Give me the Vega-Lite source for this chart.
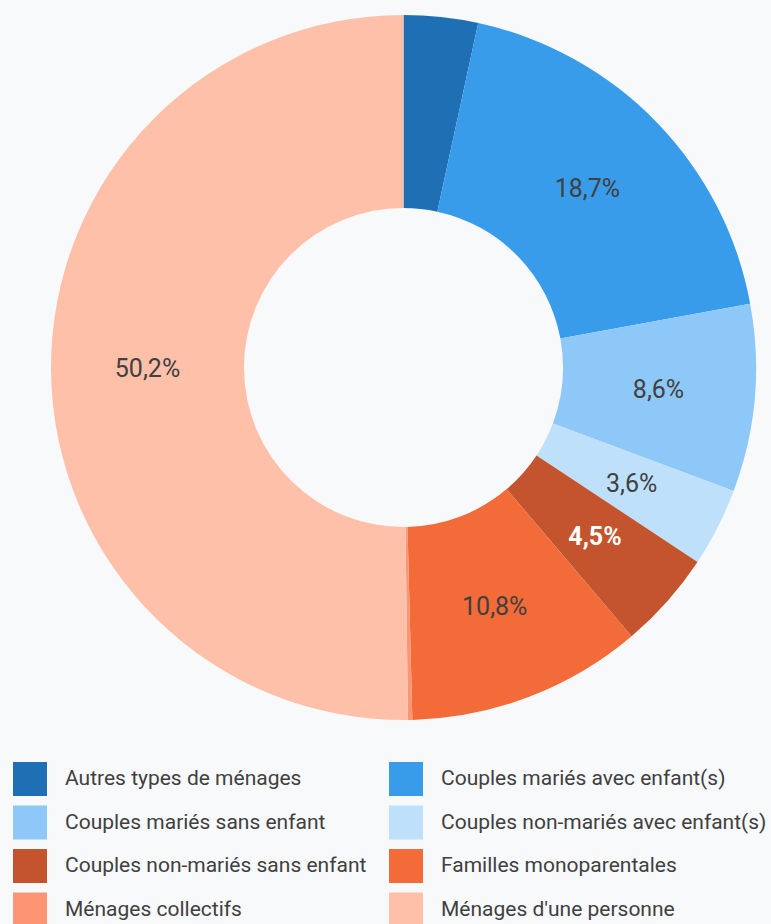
{
  "$schema": "https://vega.github.io/schema/vega-lite/v6.json",
  "width": 735,
  "height": 735,
  "autosize": {"type": "none"},
  "padding": {"left": 36, "top": 0, "right": 0, "bottom": 189},
  "background": "#f8f9fb",
  "config": {"view": {"stroke": null}, "font": "Roboto"},
  "data": {
    "values": [
      {"category": "Autres types de ménages", "value": 3.4, "rank": 1},
      {"category": "Couples mariés avec enfant(s)", "value": 18.7, "rank": 2},
      {"category": "Couples mariés sans enfant", "value": 8.6, "rank": 3},
      {"category": "Couples non-mariés avec enfant(s)", "value": 3.6, "rank": 4},
      {"category": "Couples non-mariés sans enfant", "value": 4.5, "rank": 5},
      {"category": "Familles monoparentales", "value": 10.8, "rank": 6},
      {"category": "Ménages collectifs", "value": 0.2, "rank": 7},
      {"category": "Ménages d'une personne", "value": 50.2, "rank": 8}
    ]
  },
  "transform": [
    {"calculate": "replace(format(datum.value, '.1f'), '.', ',') + '%'", "as": "pct"},
    {"calculate": "(datum.category === 'Autres types de ménages' || datum.category === 'Ménages collectifs' || datum.category === 'Couples non-mariés sans enfant') ? '' : datum.pct", "as": "lblN"},
    {"calculate": "datum.category === 'Couples non-mariés sans enfant' ? datum.pct : ''", "as": "lblB"}
  ],
  "encoding": {
    "theta": {"field": "value", "type": "quantitative", "stack": true},
    "order": {"field": "rank", "type": "quantitative"}
  },
  "layer": [
    {
      "mark": {"type": "arc", "innerRadius": 159.5, "outerRadius": 352.5},
      "encoding": {
        "color": {
          "field": "category",
          "type": "nominal",
          "scale": {
            "domain": ["Autres types de ménages", "Couples mariés avec enfant(s)", "Couples mariés sans enfant", "Couples non-mariés avec enfant(s)", "Couples non-mariés sans enfant", "Familles monoparentales", "Ménages collectifs", "Ménages d'une personne"],
            "range": ["#1f6fb4", "#389ceb", "#8ec8f8", "#bee0fb", "#c3542d", "#f26b38", "#fd9574", "#ffc0aa"]
          },
          "legend": {
            "orient": "none",
            "legendX": -23,
            "legendY": 762,
            "direction": "horizontal",
            "columns": 2,
            "title": null,
            "symbolType": "square",
            "symbolSize": 1156,
            "symbolStrokeWidth": 0,
            "symbolOpacity": 1,
            "labelFontSize": 21,
            "labelFont": "Roboto",
            "labelColor": "#404040",
            "labelOffset": 18,
            "labelLimit": 500,
            "rowPadding": 9.5,
            "columnPadding": 22
          }
        }
      }
    },
    {
      "mark": {"type": "text", "radius": 256, "fontSize": 25, "font": "Roboto", "color": "#404040", "align": "center", "baseline": "middle"},
      "encoding": {"text": {"field": "lblN"}}
    },
    {
      "mark": {"type": "text", "radius": 256, "fontSize": 25, "font": "Roboto", "fontWeight": "bold", "color": "#ffffff", "align": "center", "baseline": "middle"},
      "encoding": {"text": {"field": "lblB"}}
    }
  ]
}
